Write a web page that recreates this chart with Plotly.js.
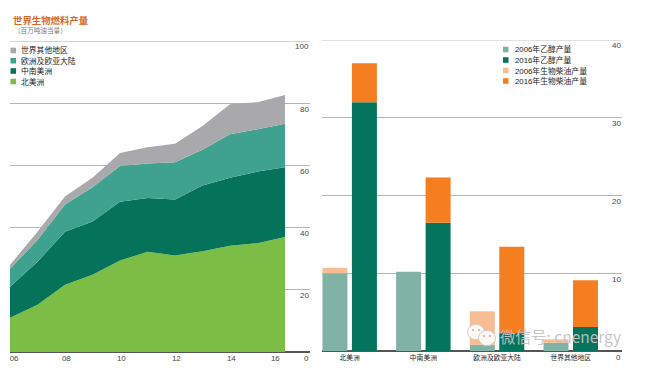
<!DOCTYPE html>
<html><head><meta charset="utf-8">
<script src="https://cdn.plot.ly/plotly-3.0.1.min.js"></script>
<style>html,body{margin:0;padding:0;background:#fff}#c{width:658px;height:373px}</style>
</head><body><div id="c"></div>
<script>
const years=[2006,2007,2008,2009,2010,2011,2012,2013,2014,2015,2016];
// area layer thicknesses derived from stacked tops
const northAmerica=[11,15.2,21.6,24.8,29.4,32.2,31,32.4,34.2,35,37];
const southCentral=[10,13.8,17.1,17.2,18.9,17.3,18,21.1,21.8,23,22.4];
const europeEurasia=[5.8,7,8.7,11,11.5,11.1,12,11.5,14,13.6,14];
const restOfWorld=[1.2,2.7,2.6,3,4.2,5.2,6,7.7,9.7,8.7,9.2];
const areaNames=['世界其他地区','欧洲及欧亚大陆','中南美洲','北美洲'];
const areaColors=['#a9a9ab','#3fa28e','#04735a','#7bbd45'];
const yearTickPos=[2006.15,2008.05,2010.05,2012.05,2014.05,2015.65];
const yearTickText=['06','08','10','12','14','16'];
const leftTicks=[0,20,40,60,80,100];

const regions=['北美洲','中南美洲','欧洲及欧亚大陆','世界其他地区'];
const ethanol2006=[10,10.2,0.8,1.05];
const biodiesel2006=[0.7,0,4.3,0.45];
const ethanol2016=[32,16.5,2.3,3.1];
const biodiesel2016=[5,5.8,11.1,6];
const barNames=['2006年乙醇产量','2016年乙醇产量','2006年生物柴油产量','2016年生物柴油产量'];
const barColors=['#80b3a5','#04755c','#f8bd92','#f57f20'];
const rightTicks=[0,10,20,30,40];

const W=658,H=373;
const px=v=>v/W, py=v=>1-v/H;
const barW=0.339;
const common={hoverinfo:'skip',showlegend:false};
const layerData=[[northAmerica,3],[southCentral,2],[europeEurasia,1],[restOfWorld,0]];
const traces=layerData.map(([vals,i])=>({type:'scatter',mode:'none',stackgroup:'a',x:years,y:vals,fillcolor:areaColors[i],line:{width:0},xaxis:'x',yaxis:'y',...common}));
traces.push(
 {type:'bar',x:regions,y:ethanol2006,width:barW,offset:-0.37,marker:{color:barColors[0]},xaxis:'x2',yaxis:'y2',...common},
 {type:'bar',x:regions,y:biodiesel2006,base:ethanol2006,width:barW,offset:-0.37,marker:{color:barColors[2]},xaxis:'x2',yaxis:'y2',...common},
 {type:'bar',x:regions,y:ethanol2016,width:barW,offset:0.03,marker:{color:barColors[1]},xaxis:'x2',yaxis:'y2',...common},
 {type:'bar',x:regions,y:biodiesel2016,base:ethanol2016,width:barW,offset:0.03,marker:{color:barColors[3]},xaxis:'x2',yaxis:'y2',...common}
);
const tickFont={family:'Liberation Sans, Arial, sans-serif',size:8,color:'#444'};
const cjk='Liberation Sans, "Noto Sans CJK SC", sans-serif';
const annotations=[
 {xref:'paper',yref:'paper',x:px(11),y:py(20),text:'<b>世界生物燃料产量</b>',font:{family:cjk,size:9.4,color:'#d9691e'},xanchor:'left',yanchor:'middle',showarrow:false},
 {xref:'paper',yref:'paper',x:px(12),y:py(30),text:'（百万吨油当量）',font:{family:cjk,size:6.6,color:'#777'},xanchor:'left',yanchor:'middle',showarrow:false}
];
leftTicks.forEach(t=>annotations.push({xref:'paper',yref:'y',x:px(310.5),y:t,yshift:-6,text:String(t),font:tickFont,xanchor:'right',yanchor:'middle',showarrow:false}));
rightTicks.forEach(t=>annotations.push({xref:'paper',yref:'y2',x:px(622.5),y:t,yshift:-6,text:String(t),font:tickFont,xanchor:'right',yanchor:'middle',showarrow:false}));
const shapes=[
 {type:'line',xref:'paper',yref:'y',x0:px(10),x1:px(310),y0:100,y1:100,line:{color:'#c4c4c4',width:1.5},layer:'below'},
 {type:'line',xref:'paper',yref:'y2',x0:px(322),x1:px(622),y0:40,y1:40,line:{color:'#c4c4c4',width:1.2},layer:'below'}
];
const legendRowsL=[50.5,60.7,71,81.5], legendRowsR=[49.5,60,70.5,81];
areaNames.forEach((n,i)=>{
 shapes.push({type:'rect',xref:'paper',yref:'paper',x0:px(10.5),x1:px(16),y0:py(legendRowsL[i]-2.8),y1:py(legendRowsL[i]+2.8),fillcolor:areaColors[i],line:{width:0}});
 annotations.push({xref:'paper',yref:'paper',x:px(19),y:py(legendRowsL[i]),text:n,font:{family:cjk,size:7.8,color:'#222'},xanchor:'left',yanchor:'middle',showarrow:false});
});
barNames.forEach((n,i)=>{
 shapes.push({type:'rect',xref:'paper',yref:'paper',x0:px(503),x1:px(508.5),y0:py(legendRowsR[i]-2.8),y1:py(legendRowsR[i]+2.8),fillcolor:barColors[i],line:{width:0}});
 annotations.push({xref:'paper',yref:'paper',x:px(512.5),y:py(legendRowsR[i]),text:n,font:{family:cjk,size:7.8,color:'#222'},xanchor:'left',yanchor:'middle',showarrow:false});
});
// watermark
annotations.push({xref:'paper',yref:'paper',x:px(498),y:py(336),text:'微信号: cnenergy',font:{family:'"Noto Sans CJK SC", sans-serif',size:15.5,color:'rgba(195,195,195,0.95)'},xanchor:'left',yanchor:'middle',showarrow:false});
[[476,332,8.5],[487,338,8.5]].forEach(([cx,cy,r])=>shapes.push({type:'circle',xref:'paper',yref:'paper',x0:px(cx-r),x1:px(cx+r),y0:py(cy-r*0.9),y1:py(cy+r*0.9),fillcolor:'rgba(255,255,255,0.88)',line:{color:'rgba(200,200,200,0.9)',width:1},layer:'above'}));
[[473,330],[479,330],[484,336],[490,336]].forEach(([cx,cy])=>shapes.push({type:'circle',xref:'paper',yref:'paper',x0:px(cx-1),x1:px(cx+1),y0:py(cy-1),y1:py(cy+1),fillcolor:'rgba(190,170,150,0.9)',line:{width:0},layer:'above'}));

const layout={width:W,height:H,margin:{l:0,r:0,t:0,b:0},paper_bgcolor:'#fff',plot_bgcolor:'#fff',barmode:'overlay',showlegend:false,
 font:{family:cjk},annotations,shapes,
 xaxis:{domain:[px(10),px(310)],range:[2006,2016.91],tickmode:'array',tickvals:yearTickPos,ticktext:yearTickText,tickfont:tickFont,ticks:'',showgrid:false,zeroline:false,showline:false,anchor:'y'},
 yaxis:{domain:[(H-352)/H,(H-41)/H],range:[0,100],tickmode:'array',tickvals:leftTicks,showticklabels:false,ticks:'',gridcolor:'#b4b4b4',gridwidth:1,zeroline:true,zerolinecolor:'#555',zerolinewidth:1.5,anchor:'x',side:'right'},
 xaxis2:{domain:[px(322),px(622)],range:[-0.376,3.695],type:'category',categoryorder:'array',categoryarray:regions,tickfont:{family:cjk,size:6.8,color:'#222'},ticks:'',showgrid:false,zeroline:false,showline:false,anchor:'y2',tickangle:0,ticklabelstandoff:1},
 yaxis2:{domain:[(H-351)/H,(H-40)/H],range:[0,40],tickmode:'array',tickvals:rightTicks,showticklabels:false,ticks:'',gridcolor:'#b4b4b4',gridwidth:1,zeroline:true,zerolinecolor:'#555',zerolinewidth:1.5,anchor:'x2',side:'right'}
};
Plotly.newPlot('c',traces,layout,{displayModeBar:false,staticPlot:true});
</script></body></html>
